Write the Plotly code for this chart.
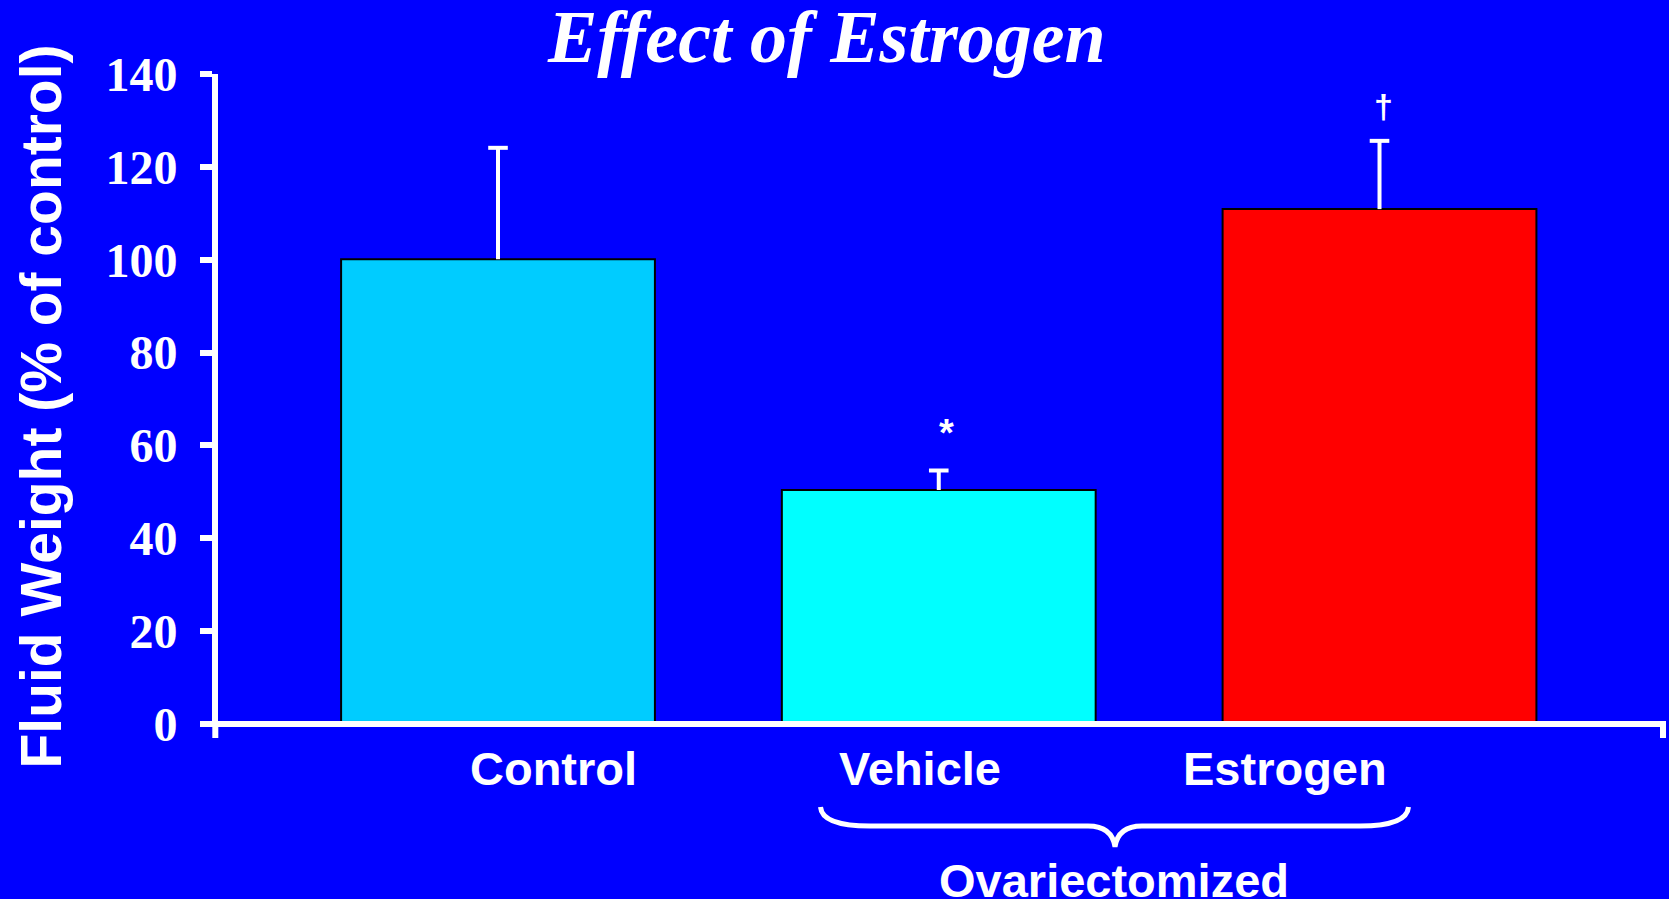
import plotly.graph_objects as go

# ---- data ----
categories = ["Control", "Vehicle", "Estrogen"]
values = [100.1, 50.4, 110.9]
errors = [24.0, 4.2, 14.7]
bar_colors = ["#00CCFF", "#00FFFF", "#FF0000"]
sig_marks = ["", "*", "\u2020"]
group_label = "Ovariectomized"
title_text = "Effect of Estrogen"
y_title = "Fluid Weight (% of control)"
y_ticks = [0, 20, 40, 60, 80, 100, 120, 140]

# ---- layout geometry (pixels) ----
W, H = 1669, 899
L, R, T, B = 218, 3, 74, 175
PW, PH = W - L - R, H - T - B


def pxx(px):
    return (px - L) / PW


def pxy(py):
    return (H - B - py) / PH


WHITE = "white"
SANS = "Liberation Sans, Arial, sans-serif"
SERIF = "Liberation Serif, Times New Roman, serif"

fig = go.Figure()

fig.add_trace(go.Bar(
    x=categories, y=values, width=0.712,
    marker=dict(color=bar_colors, line=dict(color="black", width=2)),
    showlegend=False, hoverinfo="skip",
))

# error bars (upper only)
ex, ey = [], []
for c, v, e in zip(categories, values, errors):
    ex += [c, c, None]
    ey += [v, v + e, None]
fig.add_trace(go.Scatter(
    x=ex, y=ey, mode="lines", line=dict(color=WHITE, width=4),
    showlegend=False, hoverinfo="skip",
))
fig.add_trace(go.Scatter(
    x=categories, y=[v + e for v, e in zip(values, errors)], mode="markers",
    marker=dict(symbol="line-ew", size=14, line=dict(color=WHITE, width=4)),
    showlegend=False, hoverinfo="skip",
))

annotations = []
# title
annotations.append(dict(
    text=title_text, x=pxx(826), y=pxy(37), xref="paper", yref="paper",
    xanchor="center", yanchor="middle", showarrow=False,
    font=dict(family=SERIF, size=74, color=WHITE, weight="bold", style="italic"),
))
# y title
annotations.append(dict(
    text=y_title, x=pxx(40), y=pxy(406.5), xref="paper", yref="paper",
    xanchor="center", yanchor="middle", showarrow=False, textangle=-90,
    font=dict(family=SANS, size=57, color=WHITE, weight="bold"),
))
# category labels
label_px = [553, 920, 1285]
for c, lx in zip(categories, label_px):
    annotations.append(dict(
        text=c, x=pxx(lx), y=pxy(768.5), xref="paper", yref="paper",
        xanchor="center", yanchor="middle", showarrow=False,
        font=dict(family=SANS, size=47, color=WHITE, weight="bold"),
    ))
# group label
annotations.append(dict(
    text=group_label, x=pxx(1114), y=pxy(880), xref="paper", yref="paper",
    xanchor="center", yanchor="middle", showarrow=False,
    font=dict(family=SANS, size=47, color=WHITE, weight="bold"),
))
# significance marks
sig_pos = [None, (946, 433, 38), (1383.5, 106, 34)]
for m, p in zip(sig_marks, sig_pos):
    if not m:
        continue
    annotations.append(dict(
        text=m, x=pxx(p[0]), y=pxy(p[1]), xref="paper", yref="paper",
        xanchor="center", yanchor="middle", showarrow=False,
        font=dict(family=SANS, size=p[2], color=WHITE, weight="bold"),
    ))

# brace
bp = [("M", 820.5, 807), ("Q", 822, 826, 870, 826), ("L", 1088, 826),
      ("Q", 1112, 826, 1115, 847), ("Q", 1118, 826, 1142, 826), ("L", 1360, 826),
      ("Q", 1407, 826, 1408.5, 807)]
path = ""
for seg in bp:
    cmd = seg[0]
    pts = seg[1:]
    coords = []
    for i in range(0, len(pts), 2):
        coords.append(f"{pxx(pts[i]):.5f},{pxy(pts[i+1]):.5f}")
    path += cmd + " " + " ".join(coords) + " "

shapes = [
    dict(type="path", path=path.strip(), xref="paper", yref="paper",
         line=dict(color=WHITE, width=5), layer="above"),
    # x axis line
    dict(type="line", xref="paper", yref="paper", x0=pxx(212), x1=pxx(1666),
         y0=pxy(724), y1=pxy(724), line=dict(color=WHITE, width=6), layer="above"),
    # end ticks of x axis
    dict(type="line", xref="paper", yref="paper", x0=pxx(215.3), x1=pxx(215.3),
         y0=pxy(724), y1=pxy(738), line=dict(color=WHITE, width=6), layer="above"),
    dict(type="line", xref="paper", yref="paper", x0=pxx(1663), x1=pxx(1663),
         y0=pxy(721), y1=pxy(738), line=dict(color=WHITE, width=6), layer="above"),
]

fig.update_layout(
    width=W, height=H,
    margin=dict(l=L, r=R, t=T, b=B, pad=0),
    paper_bgcolor="#0000FF", plot_bgcolor="#0000FF",
    showlegend=False,
    annotations=annotations, shapes=shapes,
    xaxis=dict(
        type="category", range=[-0.6353, 2.65], showticklabels=False,
        showgrid=False, zeroline=False, showline=False, ticks="",
        fixedrange=True,
    ),
    yaxis=dict(
        range=[0, 140], tickvals=y_ticks, showgrid=False, zeroline=False,
        showline=True, linecolor=WHITE, linewidth=6,
        ticks="outside", ticklen=12, tickwidth=6, tickcolor=WHITE,
        tickfont=dict(family=SERIF, size=48, color=WHITE, weight="bold"),
        ticklabelstandoff=13, automargin=False, fixedrange=True,
    ),
)

fig.write_html(
    "out.html",
    config={"displayModeBar": False},
    post_script="document.body.style.margin='0';document.body.style.padding='0';"
                "document.body.style.overflow='hidden';document.body.style.background='#0000FF';",
)
